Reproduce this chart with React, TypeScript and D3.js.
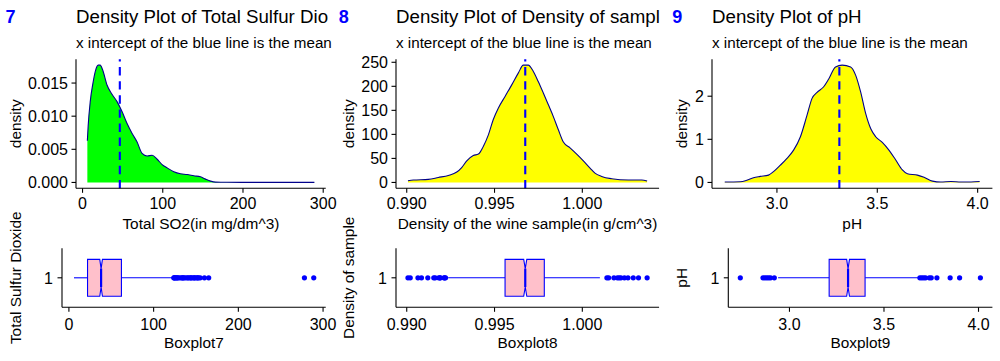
import React from "react";
import * as d3 from "d3";

// density curves
const so2X = [6, 7, 9.6, 13, 16, 19.5, 22, 25, 30.5, 36.7, 43, 49.2, 55.5, 61.8, 68, 74.2, 80.5, 86.7, 93, 99.2, 105.5, 113.8, 122, 130.5, 138.8, 147, 153.3, 159.6, 165.8, 180, 220, 260, 289];
const so2D = [0.0063, 0.0085, 0.0122, 0.015, 0.0168, 0.0177, 0.0177, 0.017, 0.0147, 0.0133, 0.0122, 0.0107, 0.0089, 0.0074, 0.0061, 0.0044, 0.004, 0.0041, 0.0035, 0.0027, 0.0022, 0.0016, 0.0013, 0.0012, 0.001, 0.00085, 0.0005, 0.0002, 0.00005, 0.00002, 0.00001, 0.00001, 0.00001];

const densX = [0.99007, 0.99038, 0.99123, 0.9918, 0.99237, 0.99285, 0.99313, 0.99342, 0.99379, 0.99408, 0.99436, 0.99465, 0.99493, 0.99522, 0.9956, 0.99598, 0.99636, 0.99664, 0.99692, 0.99721, 0.99749, 0.99778, 0.99806, 0.99835, 0.99863, 0.99892, 0.9993, 0.99968, 1.00006, 1.00044, 1.00072, 1.0011, 1.00167, 1.00262, 1.00338, 1.00369];
const densD = [3.5, 5, 6.3, 10.4, 14.6, 21.6, 31, 45, 56, 59, 75, 99, 131, 155, 179, 203, 228, 244, 244, 231, 210, 186, 162, 137, 110, 84, 72, 59, 45, 30, 19.5, 12.5, 7.7, 5, 5, 3];

const phX = [2.74, 2.817, 2.85, 2.883, 2.917, 2.958, 2.983, 3.017, 3.05, 3.083, 3.117, 3.15, 3.175, 3.2, 3.233, 3.258, 3.292, 3.325, 3.367, 3.392, 3.417, 3.442, 3.467, 3.492, 3.525, 3.558, 3.592, 3.625, 3.65, 3.7, 3.733, 3.775, 3.817, 3.867, 3.917, 3.967, 4.01];
const phD = [0.01, 0.015, 0.05, 0.11, 0.14, 0.17, 0.25, 0.4, 0.56, 0.75, 1.06, 1.56, 1.95, 2.09, 2.22, 2.4, 2.68, 2.72, 2.68, 2.49, 2.1, 1.6, 1.25, 1.06, 0.93, 0.75, 0.52, 0.29, 0.2, 0.17, 0.12, 0.03, 0.01, 0.02, 0.01, 0.01, 0.02];

const so2Mean = 46.47;
const densMean = 0.99675;
const phMean = 3.311;

// whisker low, q1, median, q3, whisker high
const so2Box = [6, 22, 38, 62, 122];
const densBox = [0.99236, 0.9956, 0.99675, 0.997835, 1.001];
const phBox = [2.94, 3.21, 3.31, 3.4, 3.68];

const so2Outliers = [124, 124, 125, 126, 127, 128, 129, 131, 133, 134, 135, 136, 138, 140, 141, 143, 144, 145, 147, 148, 149, 151, 152, 153, 155, 160, 165, 278, 289];
const densOutliers = [0.99007, 0.9902, 0.99064, 0.99084, 0.9912, 0.99154, 0.99162, 0.99182, 0.9919, 0.99191, 0.99212, 0.99216, 0.99221, 1.0014, 1.0015, 1.0018, 1.002, 1.0021, 1.0022, 1.0024, 1.0026, 1.0029, 1.0032, 1.00369];
const phOutliers = [2.74, 2.86, 2.87, 2.88, 2.89, 2.9, 2.92, 3.69, 3.7, 3.71, 3.72, 3.74, 3.75, 3.78, 3.85, 3.9, 4.01];

const sampleSize = 1599;

const so2XTicks = [0, 100, 200, 300];
const so2YTicks = [0, 0.005, 0.01, 0.015];
const densXTicks = [0.99, 0.995, 1.0];
const densYTicks = [0, 50, 100, 150, 200, 250];
const phXTicks = [3.0, 3.5, 4.0];
const phYTicks = [0, 1, 2];

const W = 1000;
const H = 361;
const DENS_TOP = 59.3;
const DENS_BOTTOM = 188.3;
const BOX_TOP = 248.3;
const BOX_BOTTOM = 307.3;
const FONT = "'Liberation Sans', Arial, sans-serif";

// titles are cut off at the column edge in the original
const columns = [
  {
    tag: "7", title: "Density Plot of Total Sulfur Dio", fill: "#00FF00",
    xs: so2X, ds: so2D, mean: so2Mean, box: so2Box, outliers: so2Outliers,
    xTicks: so2XTicks, yTicks: so2YTicks, xFmt: d3.format("d"), yFmt: d3.format(".3f"),
    xTitle: "Total SO2(in mg/dm^3)", boxTitle: "Boxplot7", boxYTitle: "Total Sulfur Dioxide",
    densLeft: 76, boxLeft: 62, yTitleX: 21,
  },
  {
    tag: "8", title: "Density Plot of Density of sampl", fill: "#FFFF00",
    xs: densX, ds: densD, mean: densMean, box: densBox, outliers: densOutliers,
    xTicks: densXTicks, yTicks: densYTicks, xFmt: d3.format(".3f"), yFmt: d3.format("d"),
    xTitle: "Density of the wine sample(in g/cm^3)", boxTitle: "Boxplot8", boxYTitle: "Density of sample",
    densLeft: 396, boxLeft: 396, yTitleX: 353.5,
  },
  {
    tag: "9", title: "Density Plot of pH", fill: "#FFFF00",
    xs: phX, ds: phD, mean: phMean, box: phBox, outliers: phOutliers,
    xTicks: phXTicks, yTicks: phYTicks, xFmt: d3.format(".1f"), yFmt: d3.format("d"),
    xTitle: "pH", boxTitle: "Boxplot9", boxYTitle: "pH",
    densLeft: 712, boxLeft: 728.3, yTitleX: 687,
  },
];

function expanded(values: number[]): [number, number] {
  const [lo, hi] = d3.extent(values) as [number, number];
  const pad = (hi - lo) * 0.05;
  return [lo - pad, hi + pad];
}

function Column({ c, index }: { c: any; index: number }) {
  const colX = (index * W) / 3;
  const right = colX + W / 3 - 7.6;

  const x = d3.scaleLinear().domain(expanded(c.xs)).range([c.densLeft, right]);
  const dMax = d3.max(c.ds as number[]) as number;
  const y = d3.scaleLinear().domain([-dMax * 0.05, dMax * 1.05]).range([DENS_BOTTOM, DENS_TOP]);

  const pts: [number, number][] = c.xs.map((v: number, i: number) => [v, c.ds[i]]);
  const area = d3.area<[number, number]>().x((d) => x(d[0])).y0(y(0)).y1((d) => y(d[1])).curve(d3.curveMonotoneX);
  const line = d3.line<[number, number]>().x((d) => x(d[0])).y((d) => y(d[1])).curve(d3.curveMonotoneX);

  const [wLo, q1, med, q3, wHi] = c.box;
  const xb = d3.scaleLinear().domain(expanded([wLo, wHi, ...c.outliers])).range([c.boxLeft, right]);
  const yb = d3.scalePoint().domain(["1"]).range([BOX_TOP, BOX_BOTTOM]).padding(0.5);
  const band = (BOX_BOTTOM - BOX_TOP) / 1.2;
  const cy = yb("1") as number;
  const half = band * 0.375;
  const top = cy - half;
  const bot = cy + half;
  const inset = half * 0.5;
  const notch = (1.58 * (q3 - q1)) / Math.sqrt(sampleSize);
  const boxPts: [number, number][] = [
    [xb(q1), top], [xb(med - notch), top], [xb(med), top + inset], [xb(med + notch), top], [xb(q3), top],
    [xb(q3), bot], [xb(med + notch), bot], [xb(med), bot - inset], [xb(med - notch), bot], [xb(q1), bot],
  ];

  const densMid = (DENS_TOP + DENS_BOTTOM) / 2;
  const boxMid = (BOX_TOP + BOX_BOTTOM) / 2;

  return (
    <g fontFamily={FONT}>
      <clipPath id={`col-${index}`}>
        <rect x={colX} y={0} width={W / 3} height={H} />
      </clipPath>
      <text x={colX + 5.5} y={23} fontSize={18} fontWeight="bold" fill="#0000FF">{c.tag}</text>
      <g clipPath={`url(#col-${index})`}>
        <text x={c.densLeft} y={23.3} fontSize={18.7} fill="#000">{c.title}</text>
      </g>
      <text x={c.densLeft} y={48.3} fontSize={15.2} fill="#000">x intercept of the blue line is the mean</text>

      {/* density panel */}
      <path d={area(pts) || ""} fill={c.fill} />
      <path d={line(pts) || ""} fill="none" stroke="#00008B" strokeWidth={1.1} />
      <line x1={x(c.mean)} x2={x(c.mean)} y1={DENS_BOTTOM} y2={DENS_TOP} stroke="#0000FF" strokeWidth={2.1} strokeDasharray="8.4 5.7" />
      <line x1={c.densLeft} x2={c.densLeft} y1={DENS_TOP} y2={DENS_BOTTOM} stroke="#000" strokeWidth={1.1} />
      <line x1={c.densLeft} x2={right} y1={DENS_BOTTOM} y2={DENS_BOTTOM} stroke="#000" strokeWidth={1.1} />
      {c.yTicks.map((t: number) => (
        <g key={`yt${t}`}>
          <line x1={c.densLeft - 4.5} x2={c.densLeft} y1={y(t)} y2={y(t)} stroke="#000" strokeWidth={1.1} />
          <text x={c.densLeft - 8} y={y(t) + 5.8} fontSize={16} textAnchor="end" fill="#000">{c.yFmt(t)}</text>
        </g>
      ))}
      {c.xTicks.map((t: number) => (
        <g key={`xt${t}`}>
          <line x1={x(t)} x2={x(t)} y1={DENS_BOTTOM} y2={DENS_BOTTOM + 4.5} stroke="#000" strokeWidth={1.1} />
          <text x={x(t)} y={209} fontSize={16} textAnchor="middle" fill="#000">{c.xFmt(t)}</text>
        </g>
      ))}
      <text x={(c.densLeft + right) / 2} y={229.3} fontSize={15.4} textAnchor="middle" fill="#000">{c.xTitle}</text>
      <text transform={`translate(${c.yTitleX},${densMid}) rotate(-90)`} fontSize={15.4} textAnchor="middle" fill="#000">density</text>

      {/* box panel */}
      <line x1={xb(wLo)} x2={xb(q1)} y1={cy} y2={cy} stroke="#0000FF" strokeWidth={1.1} />
      <line x1={xb(q3)} x2={xb(wHi)} y1={cy} y2={cy} stroke="#0000FF" strokeWidth={1.1} />
      <polygon points={boxPts.map((p) => p.join(",")).join(" ")} fill="#FFC0CB" stroke="#0000FF" strokeWidth={1.1} />
      <line x1={xb(med)} x2={xb(med)} y1={top + inset} y2={bot - inset} stroke="#0000FF" strokeWidth={2.2} />
      {c.outliers.map((v: number, i: number) => (
        <circle key={`o${i}`} cx={xb(v)} cy={cy} r={2.6} fill="#0000FF" />
      ))}
      <line x1={c.boxLeft} x2={c.boxLeft} y1={BOX_TOP} y2={BOX_BOTTOM} stroke="#000" strokeWidth={1.1} />
      <line x1={c.boxLeft} x2={right} y1={BOX_BOTTOM} y2={BOX_BOTTOM} stroke="#000" strokeWidth={1.1} />
      <line x1={c.boxLeft - 4.5} x2={c.boxLeft} y1={cy} y2={cy} stroke="#000" strokeWidth={1.1} />
      <text x={c.boxLeft - 9} y={cy + 5.8} fontSize={16} textAnchor="end" fill="#000">1</text>
      {c.xTicks.map((t: number) => (
        <g key={`bt${t}`}>
          <line x1={xb(t)} x2={xb(t)} y1={BOX_BOTTOM} y2={BOX_BOTTOM + 4.5} stroke="#000" strokeWidth={1.1} />
          <text x={xb(t)} y={330} fontSize={16} textAnchor="middle" fill="#000">{c.xFmt(t)}</text>
        </g>
      ))}
      <text x={(c.boxLeft + right) / 2} y={347.7} fontSize={15.4} textAnchor="middle" fill="#000">{c.boxTitle}</text>
      <text transform={`translate(${c.yTitleX},${boxMid}) rotate(-90)`} fontSize={15.4} textAnchor="middle" fill="#000">{c.boxYTitle}</text>
    </g>
  );
}

export default function App() {
  return (
    <>
      <style>{`body{margin:0}`}</style>
      <svg width={W} height={H} style={{ display: "block", background: "#fff" }}>
        <rect width={W} height={H} fill="#fff" />
        {columns.map((c, i) => (
          <Column key={c.tag} c={c} index={i} />
        ))}
      </svg>
    </>
  );
}
